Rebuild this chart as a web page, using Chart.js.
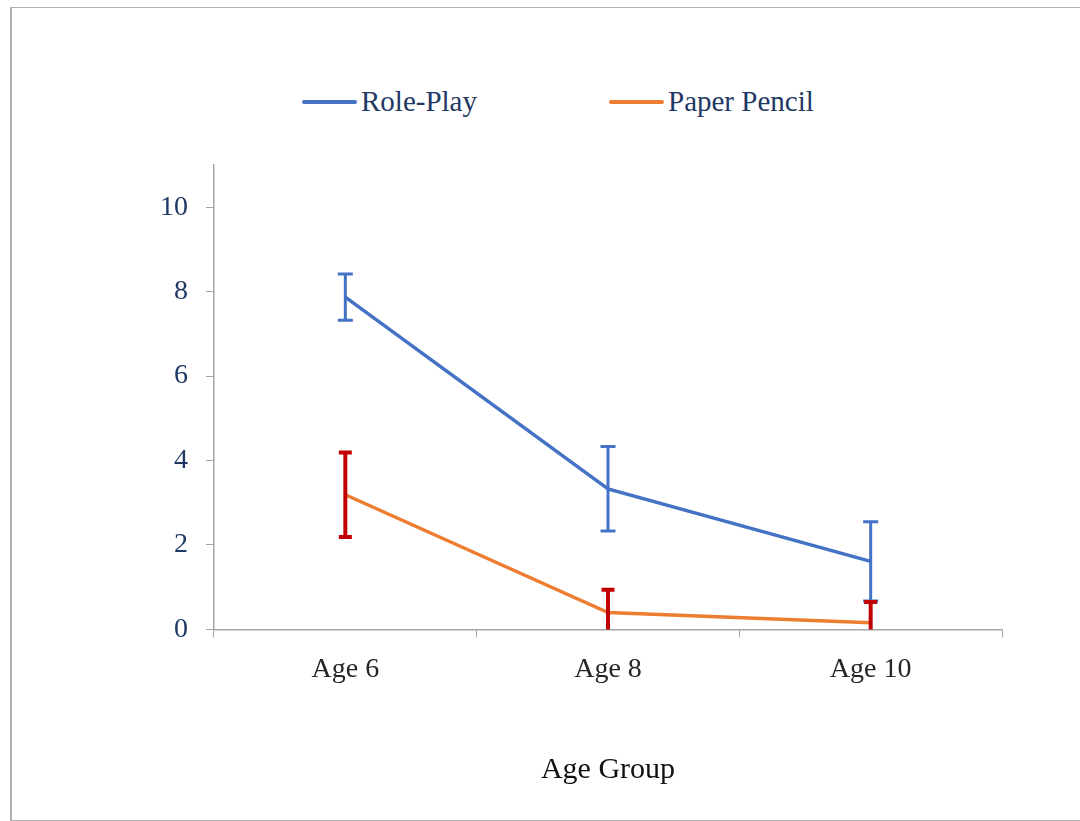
<!DOCTYPE html>
<html>
<head>
<meta charset="utf-8">
<script src="https://cdn.jsdelivr.net/npm/chart.js@4.4.1/dist/chart.umd.min.js"></script>
<style>
  html, body { margin: 0; padding: 0; background: #fff; overflow: hidden; }
  #wrap { position: relative; width: 1080px; height: 821px; }
  #frame { position: absolute; left: 10px; top: 7px; width: 1200px; height: 812px;
           border-top: 1px solid #b0b0b0; border-left: 2px solid #b0b0b0; border-bottom: 1px solid #b0b0b0; }
  #legend { position: absolute; left: 302px; top: 85px; display: flex; align-items: center;
            font-family: "Liberation Serif", "DejaVu Serif", serif; font-size: 29px; color: #1F3864; }
  .item { display: flex; align-items: center; margin-right: 132px; }
  .swatch { width: 55px; height: 4px; border-radius: 2px; margin-right: 4px; }
  canvas { position: absolute; left: 0; top: 0; }
</style>
</head>
<body>
<div id="wrap">
  <div id="frame"></div>
  <div id="legend"></div>
  <canvas id="chart" width="1080" height="821"></canvas>
</div>
<script>
// values
const ageGroups = ['Age 6', 'Age 8', 'Age 10'];
const rolePlay = [7.87, 3.33, 1.61];
const rolePlayErr = [0.55, 1.0, 0.94];
const paperPencil = [3.19, 0.40, 0.16];
const paperPencilErr = [1.0, 0.54, 0.49];
const yTicks = [0, 2, 4, 6, 8, 10];

const blue = '#4472C4';
const orange = '#ED7D31';
const red = '#C00000';
const axisGrey = '#A6A6A6';
const serif = '"Liberation Serif", "DejaVu Serif", serif';

// error bars drawn from each dataset's err array, clipped to the plot
const errorBars = {
  id: 'errorBars',
  afterDatasetsDraw(chart) {
    const ctx = chart.ctx;
    const y = chart.scales.y;
    const area = chart.chartArea;
    ctx.save();
    ctx.beginPath();
    ctx.rect(area.left - 20, area.top, area.right - area.left + 40, area.bottom - area.top);
    ctx.clip();
    chart.data.datasets.forEach((ds, i) => {
      const meta = chart.getDatasetMeta(i);
      ctx.strokeStyle = ds.errColor;
      ctx.lineWidth = ds.errWidth;
      ds.data.forEach((v, j) => {
        const x = meta.data[j].x;
        const top = y.getPixelForValue(v + ds.err[j]);
        const bot = y.getPixelForValue(v - ds.err[j]);
        const half = ds.capWidth / 2;
        ctx.beginPath();
        ctx.moveTo(x, top); ctx.lineTo(x, bot);
        ctx.moveTo(x - half, top); ctx.lineTo(x + half, top);
        ctx.moveTo(x - half, bot); ctx.lineTo(x + half, bot);
        ctx.stroke();
      });
    });
    ctx.restore();
  }
};

const chart = new Chart(document.getElementById('chart').getContext('2d'), {
  type: 'line',
  data: {
    labels: ageGroups,
    datasets: [{
      label: 'Role-Play',
      data: rolePlay,
      err: rolePlayErr,
      borderColor: blue,
      backgroundColor: blue,
      borderWidth: 3.5,
      pointRadius: 0,
      errColor: blue,
      errWidth: 3,
      capWidth: 15
    }, {
      label: 'Paper Pencil',
      data: paperPencil,
      err: paperPencilErr,
      borderColor: orange,
      backgroundColor: orange,
      borderWidth: 3.5,
      pointRadius: 0,
      errColor: red,
      errWidth: 4,
      capWidth: 13
    }]
  },
  options: {
    responsive: false,
    animation: false,
    layout: { padding: { top: 165, left: 160, right: 78, bottom: 33 } },
    plugins: {
      legend: { display: false },
      tooltip: { enabled: false }
    },
    scales: {
      x: {
        offset: true,
        grid: { offset: true, drawOnChartArea: false, drawTicks: true, tickLength: 8, color: axisGrey, lineWidth: 1 },
        border: { color: axisGrey, width: 1.5 },
        ticks: { color: '#262626', padding: 15, font: { family: serif, size: 28 } },
        title: { display: true, text: 'Age Group', color: '#111', padding: { top: 51, bottom: 0 },
                 font: { family: serif, size: 30 } }
      },
      y: {
        min: 0,
        max: 11,
        afterBuildTicks: s => { s.ticks = yTicks.map(v => ({ value: v })); },
        afterFit: s => { s.width = 54; },
        grid: { drawOnChartArea: false, drawTicks: true, tickLength: 8, color: axisGrey, lineWidth: 1 },
        border: { color: axisGrey, width: 1.5 },
        ticks: { color: '#1F3864', padding: 18, font: { family: serif, size: 28 } }
      }
    }
  },
  plugins: [errorBars]
});

// legend built from the datasets
const legend = document.getElementById('legend');
chart.data.datasets.forEach(ds => {
  const item = document.createElement('div');
  item.className = 'item';
  const sw = document.createElement('div');
  sw.className = 'swatch';
  sw.style.background = ds.borderColor;
  const txt = document.createElement('span');
  txt.textContent = ds.label;
  item.appendChild(sw);
  item.appendChild(txt);
  legend.appendChild(item);
});
</script>
</body>
</html>
